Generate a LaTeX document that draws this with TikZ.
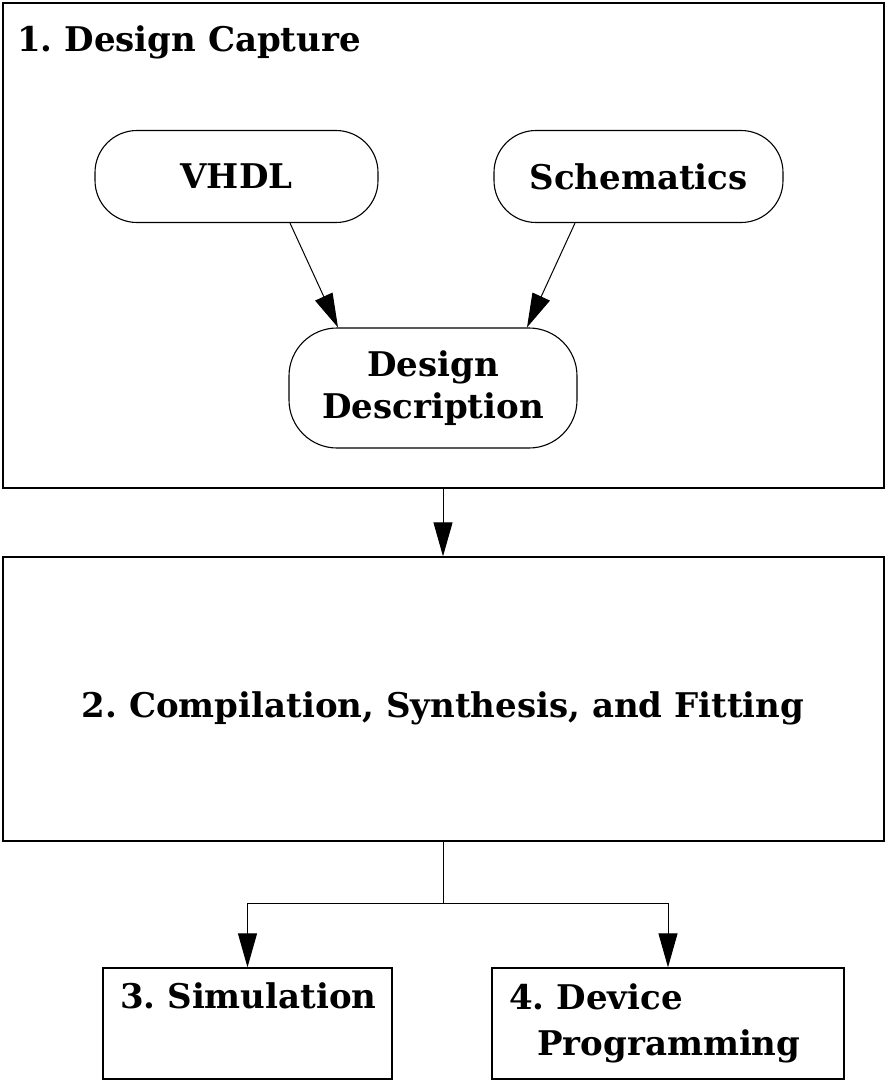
\documentclass[tikz,border=0pt]{standalone}
\usepackage{fontspec}
\setmainfont{DejaVu Serif}
\frenchspacing
\usetikzlibrary{arrows.meta}
\begin{document}
\begin{tikzpicture}[x=1pt,y=-1pt,
  txt/.style={font=\fontsize{34}{44}\selectfont\bfseries, inner sep=0pt},
  frame/.style={draw, line width=1.3pt, inner sep=0pt},
  pill/.style={draw, line width=1.1pt, inner sep=0pt, align=center,
     font=\fontsize{34}{42}\selectfont\bfseries},
  conn/.style={line width=1pt, -{Triangle[length=34pt,width=19pt]}},
  plain/.style={line width=1pt}]
\useasboundingbox (0,0) rectangle (886,1081);
% stage 1
\node[frame, minimum width=881pt, minimum height=485pt] (box1) at (443.5,245.5) {};
\node[txt, anchor=base west] (t1) at (17,52) {1. Design Capture};
\node[pill, rounded corners=42pt, minimum width=283pt, minimum height=92pt] (vhdl) at (236.5,176.5) {VHDL};
\node[pill, rounded corners=42pt, minimum width=289pt, minimum height=92pt] (sch) at (638.5,176.5) {Schematics};
\node[pill, rounded corners=48pt, minimum width=288pt, minimum height=120pt] (dd) at (433,388) {Design\\Description};
\draw[conn] ([xshift=53.5pt]vhdl.south) -- ([xshift=-95pt]dd.north);
\draw[conn] ([xshift=-63.5pt]sch.south) -- ([xshift=94pt]dd.north);
% stage 2
\node[frame, minimum width=881pt, minimum height=284pt] (box2) at (443.5,699) {};
\node[txt, anchor=base] (t2) at (443,717) {2. Compilation, Synthesis, and Fitting};
\draw[conn] (box1.south -| 443,0) -- (box2.north -| 443,0);
% stages 3 and 4
\node[frame, minimum width=289pt, minimum height=111pt] (box3) at (247.5,1023.5) {};
\node[txt, anchor=base west] (t3) at (120,1008) {3. Simulation};
\node[frame, minimum width=352pt, minimum height=111pt] (box4) at (668,1023.5) {};
\node[txt, anchor=base west] (t4a) at (509,1009) {4. Device};
\node[txt, anchor=base west] (t4b) at (537,1055) {Programming};

\coordinate (split) at (443,903);
\draw[plain] (box2.south -| split) -- (split);
\draw[conn] (split) -| (box3.north);
\draw[conn] (split) -| (box4.north);
\end{tikzpicture}
\end{document}
